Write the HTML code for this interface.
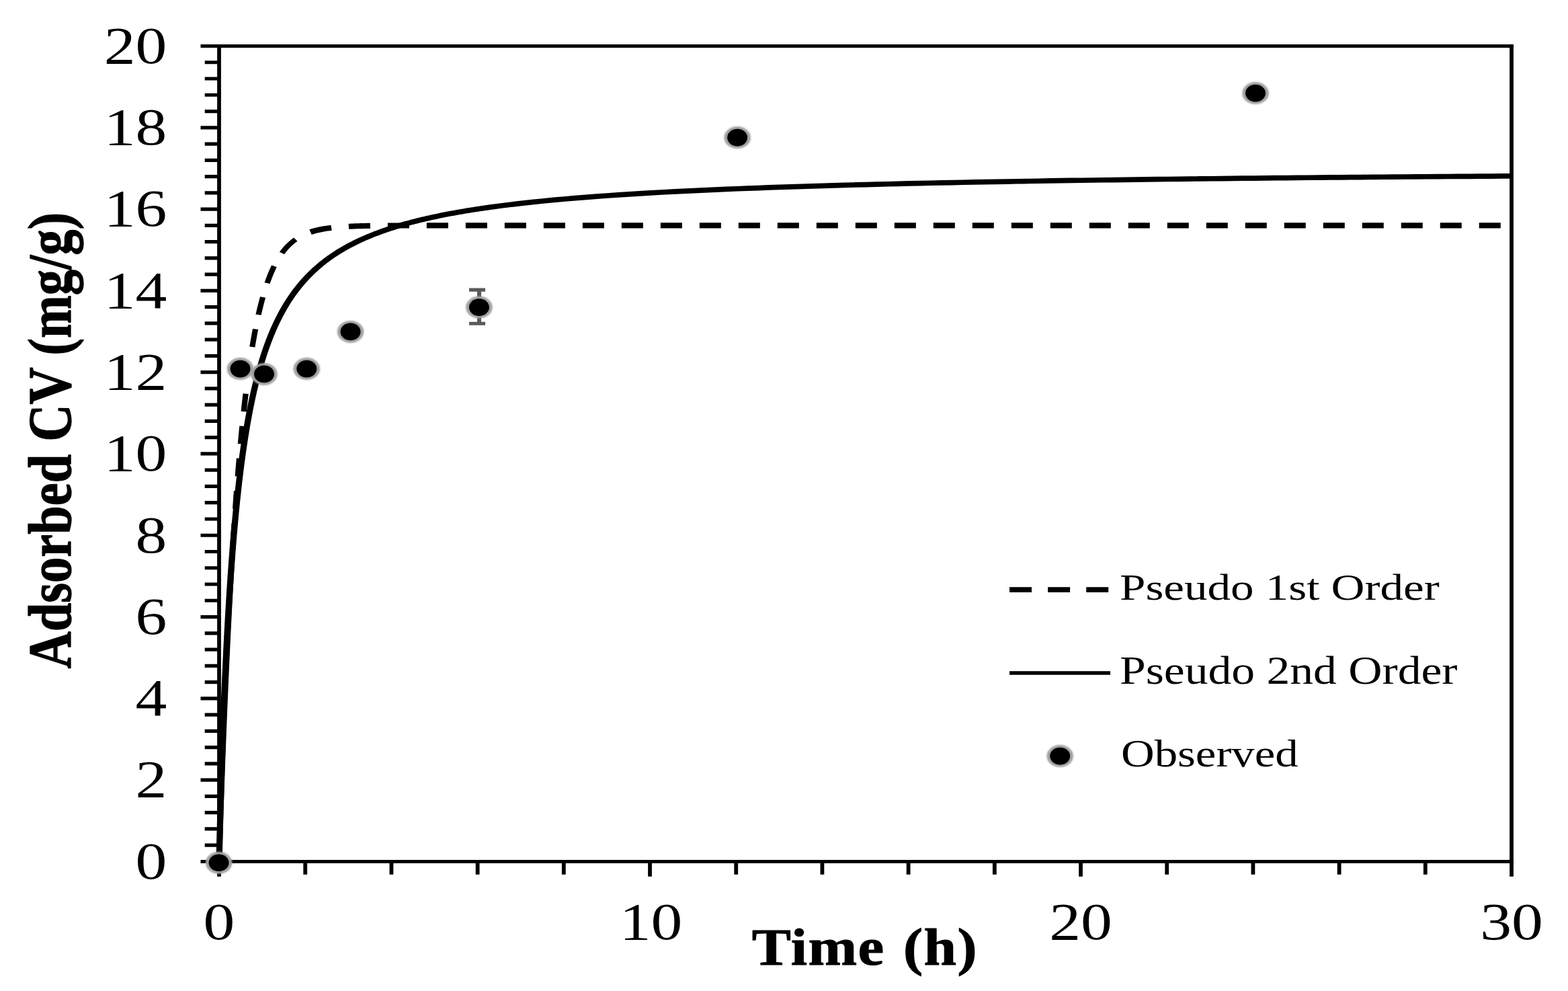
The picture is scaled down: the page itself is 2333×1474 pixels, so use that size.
<!DOCTYPE html>
<html lang="en"><head><meta charset="utf-8"><title>Adsorbed CV vs Time</title>
<style>
html,body{margin:0;padding:0;background:#fff;}
body{width:2333px;height:1474px;overflow:hidden;}
svg{display:block;}
text{font-family:"Liberation Serif","DejaVu Serif",serif;fill:#000;}
.ln{stroke:#000;fill:none;}
</style></head><body>
<svg width="2333" height="1474" viewBox="0 0 2333 1474">
<defs><filter id="halo" x="-30%" y="-30%" width="160%" height="160%"><feGaussianBlur stdDeviation="0.9"/></filter></defs>
<rect width="2333" height="1474" fill="#fff"/>
<g>
<g transform="scale(1.2,1)">
<!-- frame and axes -->
<path class="ln" d="M248.75 68.5 H1876.67 M248.75 1281.4 H1876.67" stroke-width="5"/>
<path class="ln" d="M271.67 66 V1284 M1874.17 66 V1303.8 M271.67 1281.4 V1303.8 M378.5 1281.4 V1300.8 M485.33 1281.4 V1300.8 M592.17 1281.4 V1300.8 M699 1281.4 V1300.8 M805.83 1281.4 V1303.8 M912.67 1281.4 V1300.8 M1019.5 1281.4 V1300.8 M1126.33 1281.4 V1300.8 M1233.17 1281.4 V1300.8 M1340 1281.4 V1303.8 M1446.83 1281.4 V1300.8 M1553.67 1281.4 V1300.8 M1660.5 1281.4 V1300.8 M1767.33 1281.4 V1300.8" stroke-width="4.83"/>
<path class="ln" d="M253.92 1257.14 H271.67 M253.92 1232.88 H271.67 M253.92 1208.63 H271.67 M253.92 1184.37 H271.67 M248.75 1160.11 H271.67 M253.92 1135.85 H271.67 M253.92 1111.59 H271.67 M253.92 1087.34 H271.67 M253.92 1063.08 H271.67 M248.75 1038.82 H271.67 M253.92 1014.56 H271.67 M253.92 990.3 H271.67 M253.92 966.05 H271.67 M253.92 941.79 H271.67 M248.75 917.53 H271.67 M253.92 893.27 H271.67 M253.92 869.01 H271.67 M253.92 844.76 H271.67 M253.92 820.5 H271.67 M248.75 796.24 H271.67 M253.92 771.98 H271.67 M253.92 747.72 H271.67 M253.92 723.47 H271.67 M253.92 699.21 H271.67 M248.75 674.95 H271.67 M253.92 650.69 H271.67 M253.92 626.43 H271.67 M253.92 602.18 H271.67 M253.92 577.92 H271.67 M248.75 553.66 H271.67 M253.92 529.4 H271.67 M253.92 505.14 H271.67 M253.92 480.89 H271.67 M253.92 456.63 H271.67 M248.75 432.37 H271.67 M253.92 408.11 H271.67 M253.92 383.85 H271.67 M253.92 359.6 H271.67 M253.92 335.34 H271.67 M248.75 311.08 H271.67 M253.92 286.82 H271.67 M253.92 262.56 H271.67 M253.92 238.31 H271.67 M253.92 214.05 H271.67 M248.75 189.79 H271.67 M253.92 165.53 H271.67 M253.92 141.27 H271.67 M253.92 117.02 H271.67 M253.92 92.76 H271.67" stroke-width="5.2"/>
<!-- pseudo first order (dashed) -->
<path class="ln" d="M271.67 1281.4 L271.88 1273.3 L272.09 1265.27 L272.31 1257.3 L272.52 1249.41 L272.74 1241.58 L272.95 1233.82 L273.16 1226.13 L273.38 1218.5 L273.59 1210.94 L273.8 1203.44 L274.02 1196.01 L274.23 1188.64 L274.44 1181.33 L274.66 1174.08 L274.87 1166.9 L275.09 1159.78 L275.3 1152.72 L275.51 1145.72 L275.73 1138.78 L275.94 1131.9 L276.15 1125.08 L276.37 1118.32 L276.58 1111.61 L276.79 1104.97 L277.01 1098.38 L277.22 1091.84 L277.44 1085.36 L277.65 1078.94 L277.86 1072.57 L278.08 1066.26 L278.29 1060 L278.5 1053.8 L278.72 1047.64 L278.93 1041.54 L279.14 1035.5 L279.36 1029.5 L279.57 1023.56 L279.79 1017.66 L280 1011.82 L280.21 1006.03 L280.43 1000.29 L280.64 994.59 L280.85 988.95 L281.07 983.35 L281.28 977.8 L281.5 972.3 L281.71 966.84 L281.92 961.44 L282.14 956.08 L282.35 950.76 L282.56 945.49 L282.78 940.27 L282.99 935.09 L283.2 929.95 L283.42 924.86 L283.63 919.81 L283.85 914.8 L284.06 909.84 L284.27 904.92 L284.49 900.05 L284.7 895.21 L284.91 890.42 L285.13 885.66 L285.34 880.95 L285.56 876.28 L285.77 871.65 L285.98 867.05 L286.2 862.5 L286.41 857.99 L286.62 853.51 L286.84 849.07 L287.05 844.67 L287.26 840.31 L287.48 835.99 L287.69 831.7 L288.23 821.14 L288.76 810.81 L289.28 800.98" stroke-width="6.8" stroke-linecap="round"/>
<path class="ln" d="M289.07 805 L289.6 795.01 L290.13 785.23 L290.67 775.66 L291.2 766.3 L291.74 757.13 L292.27 748.16 L292.8 739.38 L293.34 730.78 L293.87 722.37 L294.41 714.14 L294.94 706.08 L295.48 698.2 L296.01 690.48 L296.54 682.92 L297.08 675.53 L297.61 668.29 L298.15 661.21 L298.68 654.28 L299.21 647.5 L299.75 640.86 L300.28 634.36 L300.82 628 L301.35 621.77 L301.89 615.68 L302.42 609.72 L302.95 603.88 L303.49 598.17 L304.02 592.58 L304.56 587.11 L305.09 581.75 L305.12 581.49" stroke-width="6.9" stroke-dasharray="26.7 21.63"/>
<path class="ln" d="M312.81 515.95 L313.34 512.11 L313.88 508.35 L314.41 504.67 L314.95 501.06 L315.48 497.54 L316.01 494.09 L316.55 490.71 L317.08 487.41 L317.62 484.17 L318.15 481.01 L318.69 477.91 L319.22 474.88 L319.75 471.91 L320.29 469 L320.82 466.16 L321.36 463.38 L321.89 460.65 L322.42 457.99 L322.96 455.38 L323.49 452.83 L324.03 450.33 L324.56 447.88 L325.1 445.49 L325.63 443.14 L326.16 440.85 L326.7 438.61 L327.23 436.41 L327.77 434.26 L328.3 432.16 L328.83 430.1 L329.37 428.08 L329.9 426.11 L330.44 424.18 L330.97 422.29 L331.51 420.44 L332.04 418.63 L332.57 416.86 L333.11 415.12 L333.64 413.43 L334.18 411.77 L334.71 410.14 L335.24 408.55 L335.78 406.99 L336.31 405.47 L336.85 403.98 L337.38 402.52 L337.92 401.09 L338.45 399.69 L338.98 398.32 L339.52 396.98 L340.05 395.67 L340.59 394.39 L341.12 393.13 L341.65 391.9 L342.19 390.7 L342.72 389.52 L343.26 388.37 L343.79 387.24 L344.33 386.14 L344.86 385.05 L345.39 384 L345.93 382.96 L346.46 381.95 L347 380.96 L347.53 379.99 L348.06 379.04 L348.6 378.11 L349.13 377.2 L349.67 376.31 L350.2 375.44 L350.74 374.58 L351.27 373.75 L351.8 372.93 L353.94 369.83 L356.08 366.99 L358.21 364.38 L360.35 361.99 L362.49 359.79 L364.62 357.78 L366.76 355.93 L368.9 354.23 L371.03 352.67 L373.17 351.25 L375.31 349.94 L377.44 348.73 L379.58 347.63 L381.72 346.62 L383.85 345.69 L383.93 345.65" stroke-width="6.9" stroke-dasharray="26.7 21.63"/>
<path class="ln" d="M385 345.22 L387.14 344.4 L389.28 343.66 L391.41 342.97 L393.55 342.34 L395.69 341.77 L397.82 341.24 L399.96 340.75 L402.1 340.3 L404.23 339.89 L406.37 339.52 L408.51 339.17 L410.64 338.86 L412.78 338.57 L414.92 338.3 L417.05 338.06 L419.19 337.83 L421.33 337.63 L423.46 337.44 L425.6 337.27 L427.74 337.11 L429.87 336.96 L432.01 336.83 L434.15 336.7 L436.28 336.59 L438.42 336.49 L440.56 336.39 L442.69 336.31 L444.83 336.23 L446.97 336.15 L449.1 336.09 L451.24 336.03 L453.38 335.97 L455.51 335.92 L457.65 335.87 L459.79 335.83 L461.92 335.78 L464.06 335.75 L466.2 335.71 L468.33 335.68 L470.47 335.65 L472.61 335.63 L474.74 335.6 L476.88 335.58 L479.02 335.56 L481.15 335.54 L483.29 335.53 L485.43 335.51 L487.56 335.5 L489.7 335.48 L491.84 335.47 L493.97 335.46 L496.11 335.45 L498.25 335.44 L500.38 335.43 L502.52 335.43 L504.66 335.42 L506.79 335.41 L508.93 335.41 L511.07 335.4 L513.2 335.39 L515.34 335.39 L517.48 335.39 L519.61 335.38 L521.75 335.38 L523.89 335.37 L526.02 335.37 L528.16 335.37 L530.3 335.37 L532.43 335.36 L534.57 335.36 L536.71 335.36 L538.84 335.36 L540.98 335.36 L543.12 335.36 L545.25 335.35 L547.39 335.35 L549.53 335.35 L551.66 335.35 L553.8 335.35 L555.94 335.35 L558.07 335.35 L560.21 335.35 L562.35 335.35 L564.48 335.35 L566.62 335.34 L568.76 335.34 L570.89 335.34 L573.03 335.34 L575.17 335.34 L577.3 335.34 L579.44 335.34 L581.58 335.34 L583.71 335.34 L585.85 335.34 L587.99 335.34 L590.12 335.34 L592.26 335.34 L605.61 335.34 L618.97 335.34 L632.32 335.34 L645.68 335.34 L659.03 335.34 L672.38 335.34 L685.74 335.34 L699.09 335.34 L712.45 335.34 L725.8 335.34 L739.15 335.34 L752.51 335.34 L765.86 335.34 L779.22 335.34 L792.57 335.34 L805.93 335.34 L819.28 335.34 L832.63 335.34 L845.99 335.34 L859.34 335.34 L872.7 335.34 L886.05 335.34 L899.4 335.34 L912.76 335.34 L926.11 335.34 L939.47 335.34 L952.82 335.34 L966.18 335.34 L979.53 335.34 L992.88 335.34 L1006.24 335.34 L1019.59 335.34 L1032.95 335.34 L1046.3 335.34 L1059.65 335.34 L1073.01 335.34 L1086.36 335.34 L1099.72 335.34 L1113.07 335.34 L1126.43 335.34 L1139.78 335.34 L1153.13 335.34 L1166.49 335.34 L1179.84 335.34 L1193.2 335.34 L1206.55 335.34 L1219.9 335.34 L1233.26 335.34 L1246.61 335.34 L1259.97 335.34 L1273.32 335.34 L1286.68 335.34 L1300.03 335.34 L1313.38 335.34 L1326.74 335.34 L1340.09 335.34 L1353.45 335.34 L1366.8 335.34 L1380.15 335.34 L1393.51 335.34 L1406.86 335.34 L1420.22 335.34 L1433.57 335.34 L1446.93 335.34 L1460.28 335.34 L1473.63 335.34 L1486.99 335.34 L1500.34 335.34 L1513.7 335.34 L1527.05 335.34 L1540.4 335.34 L1553.76 335.34 L1567.11 335.34 L1580.47 335.34 L1593.82 335.34 L1607.18 335.34 L1620.53 335.34 L1633.88 335.34 L1647.24 335.34 L1660.59 335.34 L1673.95 335.34 L1687.3 335.34 L1700.65 335.34 L1714.01 335.34 L1727.36 335.34 L1740.72 335.34 L1754.07 335.34 L1767.43 335.34 L1780.78 335.34 L1794.13 335.34 L1807.49 335.34 L1820.84 335.34 L1834.2 335.34 L1847.55 335.34 L1860.9 335.34 L1874.17 335.34" stroke-width="8.1" stroke-dasharray="26.7 21.63"/>
<!-- pseudo second order (solid) -->
<path class="ln" d="M271.67 1282.8 L271.88 1272.13 L272.09 1261.68 L272.31 1251.44 L272.52 1241.4 L272.74 1231.56 L272.95 1221.92 L273.16 1212.46 L273.38 1203.19 L273.59 1194.09 L273.8 1185.17 L274.02 1176.41 L274.23 1167.81 L274.44 1159.37 L274.66 1151.09 L274.87 1142.95 L275.09 1134.96 L275.3 1127.11 L275.51 1119.4 L275.73 1111.83 L275.94 1104.38 L276.15 1097.06 L276.37 1089.87 L276.58 1082.79 L276.79 1075.84 L277.01 1069 L277.22 1062.27 L277.44 1055.65 L277.65 1049.14 L277.86 1042.73 L278.08 1036.43 L278.29 1030.22 L278.5 1024.11 L278.72 1018.1 L278.93 1012.17 L279.14 1006.34 L279.36 1000.6 L279.57 994.94 L279.79 989.37 L280 983.88 L280.21 978.47 L280.43 973.14 L280.64 967.89 L280.85 962.71 L281.07 957.61 L281.28 952.58 L281.5 947.62 L281.71 942.73 L281.92 937.91 L282.14 933.15 L282.35 928.46 L282.56 923.84 L282.78 919.27 L282.99 914.77 L283.2 910.33 L283.42 905.94 L283.63 901.62 L283.85 897.35 L284.06 893.13 L284.27 888.97 L284.49 884.87 L284.7 880.81 L284.91 876.81 L285.13 872.86 L285.34 868.96 L285.56 865.1 L285.77 861.29 L285.98 857.54 L286.2 853.82 L286.41 850.15 L286.62 846.53 L286.84 842.95 L287.05 839.41 L287.26 835.91 L287.48 832.46 L287.69 829.04 L288.23 820.67 L288.76 812.55 L289.29 804.65 L289.83 796.97 L290.36 789.49 L290.9 782.22 L291.43 775.14 L291.97 768.25 L292.5 761.54 L293.03 754.99 L293.57 748.61 L294.1 742.4 L294.64 736.33 L295.17 730.41 L295.7 724.63 L296.24 718.99 L296.77 713.48 L297.31 708.1 L297.84 702.84 L298.38 697.71 L298.91 692.68 L299.44 687.77 L299.98 682.97 L300.51 678.26 L301.05 673.66 L301.58 669.16 L302.11 664.75 L302.65 660.44 L303.18 656.21 L303.72 652.07 L304.25 648.01 L304.79 644.03 L305.32 640.13 L305.85 636.31 L306.39 632.56 L306.92 628.88 L307.46 625.27 L307.99 621.73 L308.52 618.26 L309.06 614.85 L309.59 611.5 L310.13 608.22 L310.66 604.99 L311.2 601.82 L311.73 598.71 L312.26 595.65 L312.8 592.64 L313.33 589.68 L313.87 586.78 L314.4 583.92 L314.93 581.12 L315.47 578.35 L316 575.64 L316.54 572.97 L317.07 570.34 L317.61 567.75 L318.14 565.21 L318.67 562.71 L319.21 560.24 L319.74 557.81 L320.28 555.43 L320.81 553.07 L321.34 550.76 L321.88 548.48 L322.41 546.23 L322.95 544.02 L323.48 541.83 L324.02 539.69 L324.55 537.57 L325.08 535.48 L325.62 533.42 L326.15 531.4 L326.69 529.4 L327.22 527.42 L327.75 525.48 L328.29 523.56 L328.82 521.67 L329.36 519.81 L329.89 517.97 L330.43 516.16 L330.96 514.37 L331.49 512.6 L332.03 510.86 L332.56 509.14 L333.1 507.44 L333.63 505.76 L334.16 504.11 L334.7 502.48 L335.23 500.86 L335.77 499.27 L336.3 497.7 L336.84 496.15 L337.37 494.62 L337.9 493.1 L338.44 491.61 L338.97 490.13 L339.51 488.67 L340.04 487.23 L340.57 485.8 L341.11 484.4 L341.64 483 L342.18 481.63 L342.71 480.27 L343.25 478.93 L343.78 477.6 L344.31 476.29 L344.85 474.99 L345.38 473.71 L345.92 472.44 L346.45 471.19 L346.98 469.95 L347.52 468.72 L348.05 467.51 L348.59 466.31 L349.12 465.12 L349.66 463.95 L350.19 462.79 L350.72 461.64 L351.26 460.5 L351.79 459.38 L353.93 455 L356.07 450.8 L358.2 446.77 L360.34 442.89 L362.48 439.16 L364.61 435.58 L366.75 432.13 L368.89 428.8 L371.02 425.59 L373.16 422.49 L375.3 419.5 L377.43 416.61 L379.57 413.82 L381.71 411.12 L383.84 408.5 L385.98 405.97 L388.12 403.52 L390.25 401.14 L392.39 398.84 L394.53 396.6 L396.66 394.43 L398.8 392.32 L400.94 390.27 L403.07 388.28 L405.21 386.35 L407.35 384.47 L409.48 382.63 L411.62 380.85 L413.76 379.12 L415.89 377.43 L418.03 375.78 L420.17 374.17 L422.3 372.61 L424.44 371.08 L426.58 369.59 L428.71 368.14 L430.85 366.72 L432.99 365.33 L435.12 363.98 L437.26 362.65 L439.4 361.36 L441.53 360.1 L443.67 358.86 L445.81 357.65 L447.94 356.47 L450.08 355.32 L452.22 354.18 L454.35 353.07 L456.49 351.99 L458.63 350.93 L460.76 349.89 L462.9 348.86 L465.04 347.86 L467.17 346.88 L469.31 345.92 L471.45 344.98 L473.58 344.06 L475.72 343.15 L477.86 342.26 L479.99 341.39 L482.13 340.53 L484.27 339.69 L486.4 338.87 L488.54 338.05 L490.68 337.26 L492.81 336.48 L494.95 335.71 L497.09 334.95 L499.22 334.21 L501.36 333.48 L503.5 332.76 L505.63 332.06 L507.77 331.36 L509.91 330.68 L512.04 330.01 L514.18 329.35 L516.32 328.7 L518.45 328.06 L520.59 327.43 L522.73 326.82 L524.86 326.21 L527 325.61 L529.14 325.02 L531.27 324.43 L533.41 323.86 L535.55 323.3 L537.68 322.74 L539.82 322.19 L541.96 321.66 L544.09 321.12 L546.23 320.6 L548.37 320.08 L550.5 319.57 L552.64 319.07 L554.78 318.58 L556.91 318.09 L559.05 317.61 L561.19 317.14 L563.32 316.67 L565.46 316.21 L567.6 315.75 L569.73 315.3 L571.87 314.86 L574.01 314.42 L576.14 313.99 L578.28 313.56 L580.42 313.14 L582.55 312.73 L584.69 312.32 L586.83 311.91 L588.96 311.51 L591.1 311.12 L593.24 310.73 L606.59 308.4 L619.94 306.24 L633.3 304.24 L646.65 302.36 L660.01 300.61 L673.36 298.97 L686.71 297.44 L700.07 295.99 L713.42 294.62 L726.78 293.34 L740.13 292.12 L753.49 290.97 L766.84 289.88 L780.19 288.84 L793.55 287.85 L806.9 286.91 L820.26 286.02 L833.61 285.17 L846.96 284.35 L860.32 283.57 L873.67 282.82 L887.03 282.11 L900.38 281.42 L913.74 280.77 L927.09 280.13 L940.44 279.53 L953.8 278.94 L967.15 278.38 L980.51 277.84 L993.86 277.32 L1007.21 276.81 L1020.57 276.33 L1033.92 275.86 L1047.28 275.4 L1060.63 274.96 L1073.99 274.54 L1087.34 274.13 L1100.69 273.73 L1114.05 273.34 L1127.4 272.97 L1140.76 272.6 L1154.11 272.25 L1167.46 271.91 L1180.82 271.58 L1194.17 271.25 L1207.53 270.94 L1220.88 270.64 L1234.24 270.34 L1247.59 270.05 L1260.94 269.77 L1274.3 269.5 L1287.65 269.23 L1301.01 268.97 L1314.36 268.71 L1327.71 268.47 L1341.07 268.23 L1354.42 267.99 L1367.78 267.76 L1381.13 267.54 L1394.49 267.32 L1407.84 267.1 L1421.19 266.89 L1434.55 266.69 L1447.9 266.49 L1461.26 266.3 L1474.61 266.1 L1487.96 265.92 L1501.32 265.73 L1514.67 265.56 L1528.03 265.38 L1541.38 265.21 L1554.74 265.04 L1568.09 264.87 L1581.44 264.71 L1594.8 264.55 L1608.15 264.4 L1621.51 264.25 L1634.86 264.1 L1648.21 263.95 L1661.57 263.81 L1674.92 263.67 L1688.28 263.53 L1701.63 263.39 L1714.99 263.26 L1728.34 263.13 L1741.69 263 L1755.05 262.87 L1768.4 262.75 L1781.76 262.63 L1795.11 262.51 L1808.46 262.39 L1821.82 262.28 L1835.17 262.16 L1848.53 262.05 L1861.88 261.94 L1874.17 261.84" stroke-width="7.7" stroke-linejoin="round"/>
<!-- error bar -->
<path d="M594.17 431.1 V481.3" stroke="#595959" stroke-width="5" fill="none"/>
<path d="M581.67 431.1 H601.67 M581.67 481.3 H601.67" stroke="#595959" stroke-width="5.1" fill="none"/>
<!-- observed points -->
<ellipse cx="271.33" cy="1283.3" rx="16.5" ry="16.5" fill="#a0a0a0" filter="url(#halo)"/>
<ellipse cx="271.33" cy="1283.3" rx="12.5" ry="12.8" fill="#000"/>
<ellipse cx="297.92" cy="548.6" rx="16.5" ry="16.5" fill="#a0a0a0" filter="url(#halo)"/>
<ellipse cx="297.92" cy="548.6" rx="12.5" ry="12.8" fill="#000"/>
<ellipse cx="327.5" cy="556.4" rx="16.5" ry="16.5" fill="#a0a0a0" filter="url(#halo)"/>
<ellipse cx="327.5" cy="556.4" rx="12.5" ry="12.8" fill="#000"/>
<ellipse cx="380.25" cy="548.6" rx="16.5" ry="16.5" fill="#a0a0a0" filter="url(#halo)"/>
<ellipse cx="380.25" cy="548.6" rx="12.5" ry="12.8" fill="#000"/>
<ellipse cx="434.58" cy="493.4" rx="16.5" ry="16.5" fill="#a0a0a0" filter="url(#halo)"/>
<ellipse cx="434.58" cy="493.4" rx="12.5" ry="12.8" fill="#000"/>
<ellipse cx="594.08" cy="457.1" rx="16.5" ry="16.5" fill="#a0a0a0" filter="url(#halo)"/>
<ellipse cx="594.08" cy="457.1" rx="12.5" ry="12.8" fill="#000"/>
<ellipse cx="914.25" cy="204.6" rx="16.5" ry="16.5" fill="#a0a0a0" filter="url(#halo)"/>
<ellipse cx="914.25" cy="204.6" rx="12.5" ry="12.8" fill="#000"/>
<ellipse cx="1556.67" cy="138.6" rx="16.5" ry="16.5" fill="#a0a0a0" filter="url(#halo)"/>
<ellipse cx="1556.67" cy="138.6" rx="12.5" ry="12.8" fill="#000"/>
<!-- y tick labels -->
<text x="206.92" y="93.8" font-size="78" text-anchor="end">20</text>
<text x="206.92" y="215.09" font-size="78" text-anchor="end">18</text>
<text x="206.92" y="336.38" font-size="78" text-anchor="end">16</text>
<text x="206.92" y="457.67" font-size="78" text-anchor="end">14</text>
<text x="206.92" y="578.96" font-size="78" text-anchor="end">12</text>
<text x="206.92" y="700.25" font-size="78" text-anchor="end">10</text>
<text x="206.92" y="821.54" font-size="78" text-anchor="end">8</text>
<text x="206.92" y="942.83" font-size="78" text-anchor="end">6</text>
<text x="206.92" y="1064.12" font-size="78" text-anchor="end">4</text>
<text x="206.92" y="1185.41" font-size="78" text-anchor="end">2</text>
<text x="206.92" y="1306.7" font-size="78" text-anchor="end">0</text>
<!-- x tick labels -->
<text x="271.67" y="1397.5" font-size="78" text-anchor="middle">0</text>
<text x="807.08" y="1397.5" font-size="78" text-anchor="middle">10</text>
<text x="1340" y="1397.5" font-size="78" text-anchor="middle">20</text>
<text x="1874.17" y="1397.5" font-size="78" text-anchor="middle">30</text>
<text transform="translate(1072.42,1434.8) scale(0.93,1)" font-size="78" font-weight="bold" text-anchor="middle" letter-spacing="1.4" word-spacing="3.5" stroke="#000" stroke-width="1.1" stroke-linejoin="round">Time (h)</text>
<text transform="translate(87.83,655.3) rotate(-90)" font-size="76.5" font-weight="bold" text-anchor="middle" stroke="#000" stroke-width="1.1" stroke-linejoin="round">Adsorbed CV (mg/g)</text>
<!-- legend -->
<path class="ln" d="M1251.67 877.2 H1374.33" stroke-width="7.8" stroke-dasharray="27.5 20.08"/>
<path class="ln" d="M1251.67 1001 H1376.67" stroke-width="5.6"/>
<ellipse cx="1314.33" cy="1124.6" rx="16.5" ry="16.5" fill="#a0a0a0" filter="url(#halo)"/>
<ellipse cx="1314.33" cy="1124.6" rx="12.5" ry="12.8" fill="#000"/>
<text transform="translate(1388.33,892.3) scale(1.037,1)" font-size="55.5">Pseudo 1st Order</text>
<text transform="translate(1388.33,1017.4) scale(0.995,1)" font-size="58.3">Pseudo 2nd Order</text>
<text transform="translate(1390,1140.3) scale(0.989,1)" font-size="58">Observed</text>
</g></g></svg></body></html>
